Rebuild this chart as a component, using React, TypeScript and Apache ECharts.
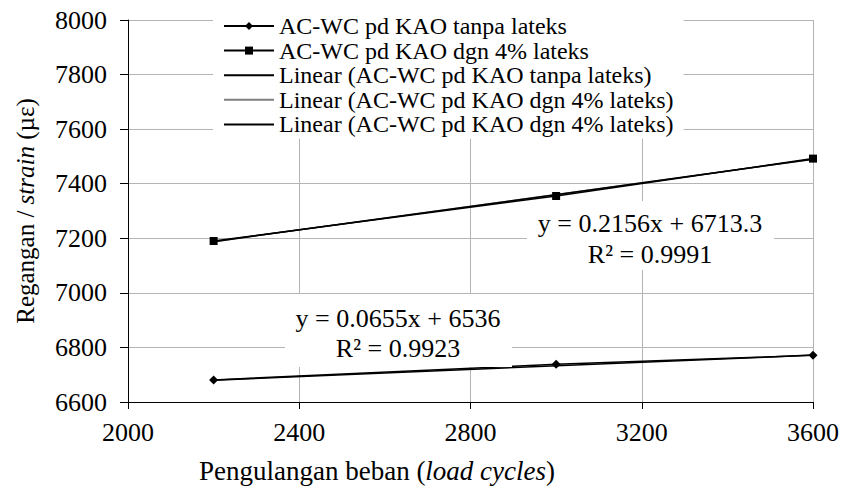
import { useEffect, useRef } from "react";
import * as echarts from "echarts";

// Load cycles at which strain was measured
const cycles = [2200, 3000, 3600];
// Measured strain (µε)
const strainNoLatex = [6681, 6738, 6771];
const strainLatex4 = [7190, 7355, 7492];

// Linear trendline coefficients
const fitNoLatex = { slope: 0.0655, intercept: 6536, r2: 0.9923 };
const fitLatex4 = { slope: 0.2156, intercept: 6713.3, r2: 0.9991 };

const seriesNames = [
  "AC-WC pd KAO tanpa lateks",
  "AC-WC pd KAO dgn 4% lateks",
  "Linear (AC-WC pd KAO tanpa lateks)",
  "Linear (AC-WC pd KAO dgn 4% lateks)",
  // trailing space keeps the duplicate legend entry distinct; trimmed on display
  "Linear (AC-WC pd KAO dgn 4% lateks) ",
];

const xRange = { min: 2000, max: 3600, interval: 400 };
const yRange = { min: 6600, max: 8000, interval: 200 };

const FONT = "Liberation Serif, Times New Roman, serif";

const trend = (fit: { slope: number; intercept: number }) => {
  const x0 = cycles[0];
  const x1 = cycles[cycles.length - 1];
  return [
    [x0, fit.slope * x0 + fit.intercept],
    [x1, fit.slope * x1 + fit.intercept],
  ];
};

const eqText = (fit: { slope: number; intercept: number; r2: number }) =>
  `y = ${fit.slope}x + ${fit.intercept}\nR² = ${fit.r2}`;

export default function App() {
  const ref = useRef<HTMLDivElement>(null);

  useEffect(() => {
    if (!ref.current) return;
    const chart = echarts.init(ref.current, undefined, { renderer: "svg" });

    const trendLine = (name: string, color: string, data: number[][]) => ({
      name,
      type: "line",
      data,
      symbol: "none",
      itemStyle: { color, opacity: 0 },
      lineStyle: { color, width: 1.5, opacity: 1 },
      z: 2,
    });

    const tickLabel = (margin: number) => ({
      fontFamily: FONT,
      fontSize: 26,
      color: "#000",
      margin,
      formatter: (v: number) => String(v),
    });

    chart.setOption({
      animation: false,
      backgroundColor: "#ffffff",
      textStyle: { fontFamily: FONT, color: "#000" },
      grid: { left: 128, right: 31, top: 20, bottom: 84 },
      xAxis: {
        type: "value",
        min: xRange.min,
        max: xRange.max,
        interval: xRange.interval,
        axisLine: { lineStyle: { color: "#000", width: 1 } },
        axisTick: { show: true, length: 7, lineStyle: { color: "#000" } },
        axisLabel: tickLabel(17),
        splitLine: { show: true, lineStyle: { color: "#b4b4b4", width: 1 } },
      },
      yAxis: {
        type: "value",
        min: yRange.min,
        max: yRange.max,
        interval: yRange.interval,
        axisLine: { show: true, lineStyle: { color: "#000", width: 1 } },
        axisTick: { show: true, length: 8, lineStyle: { color: "#000" } },
        axisLabel: tickLabel(21),
        splitLine: { show: true, lineStyle: { color: "#b4b4b4", width: 1 } },
      },
      legend: {
        orient: "vertical",
        left: 213,
        top: 9,
        padding: [4.7, 10, 2, 10],
        backgroundColor: "#ffffff",
        itemWidth: 50,
        itemHeight: 10,
        itemGap: 0,
        data: seriesNames,
        formatter: (name: string) => name.trim(),
        textStyle: { fontFamily: FONT, fontSize: 24, color: "#000", lineHeight: 24.6 },
      },
      series: [
        {
          name: seriesNames[0],
          type: "line",
          data: cycles.map((c, i) => [c, strainNoLatex[i]]),
          symbol: "diamond",
          symbolSize: 9,
          itemStyle: { color: "#000" },
          lineStyle: { color: "#000", width: 1.5 },
          z: 3,
        },
        {
          name: seriesNames[1],
          type: "line",
          data: cycles.map((c, i) => [c, strainLatex4[i]]),
          symbol: "rect",
          symbolSize: 8,
          itemStyle: { color: "#000" },
          lineStyle: { color: "#000", width: 1.5 },
          z: 3,
        },
        trendLine(seriesNames[2], "#000", trend(fitNoLatex)),
        trendLine(seriesNames[3], "#7f7f7f", trend(fitLatex4)),
        trendLine(seriesNames[4], "#000", trend(fitLatex4)),
      ],
      graphic: [
        // trendline equation boxes
        {
          type: "rect",
          z: 10,
          shape: { x: 527, y: 201, width: 247, height: 69 },
          style: { fill: "#ffffff" },
        },
        {
          type: "text",
          z: 11,
          x: 650,
          y: 238.5,
          style: {
            text: eqText(fitLatex4),
            font: `26px ${FONT}`,
            fill: "#000",
            align: "center",
            verticalAlign: "middle",
            lineHeight: 31,
          },
        },
        {
          type: "rect",
          z: 10,
          shape: { x: 285, y: 294, width: 227, height: 73 },
          style: { fill: "#ffffff" },
        },
        {
          type: "text",
          z: 11,
          x: 398,
          y: 333,
          style: {
            text: eqText(fitNoLatex),
            font: `26px ${FONT}`,
            fill: "#000",
            align: "center",
            verticalAlign: "middle",
            lineHeight: 30,
          },
        },
        // axis titles
        {
          type: "text",
          x: 377,
          y: 471,
          z: 11,
          style: {
            text: "{n|Pengulangan beban (}{i|load cycles}{n|)}",
            align: "center",
            verticalAlign: "middle",
            rich: {
              n: { fontFamily: FONT, fontSize: 27, fill: "#000" },
              i: { fontFamily: FONT, fontSize: 27, fontStyle: "italic", fill: "#000" },
            },
          },
        },
        {
          type: "text",
          x: 25,
          y: 211,
          rotation: Math.PI / 2,
          z: 11,
          style: {
            text: "{n|Regangan / }{i|strain}{n| (µε)}",
            align: "center",
            verticalAlign: "middle",
            rich: {
              n: { fontFamily: FONT, fontSize: 25, fill: "#000" },
              i: { fontFamily: FONT, fontSize: 25, fontStyle: "italic", fill: "#000" },
            },
          },
        },
      ],
    });

    return () => chart.dispose();
  }, []);

  return <div ref={ref} style={{ width: 844, height: 486, position: "absolute", left: 0, top: 0 }} />;
}
